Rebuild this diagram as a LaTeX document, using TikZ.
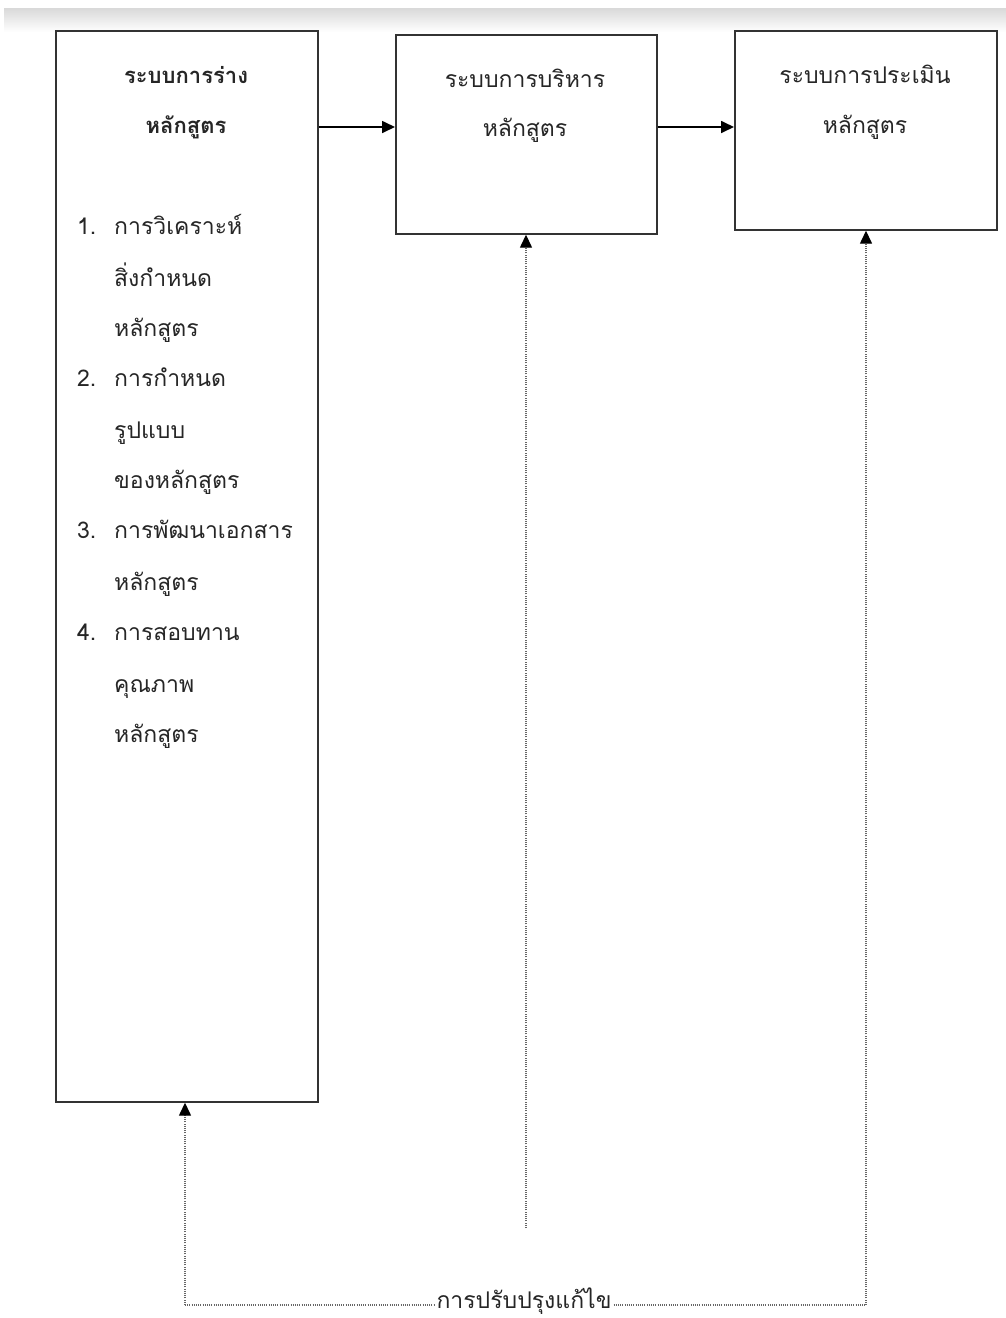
\documentclass[tikz,border=0pt]{standalone}
\usepackage{fontspec}
\newfontfamily\thaifont[Script=Thai]{Loma}
\usetikzlibrary{arrows.meta}
\definecolor{boxline}{HTML}{333333}
\definecolor{txt}{HTML}{262626}
\tikzset{
  box/.style={draw=boxline, line width=1.7pt, fill=white},
  ttl/.style={font=\thaifont\fontsize{23}{26}\selectfont, text=txt, text height=17pt, text depth=7pt, inner sep=0pt},
  itm/.style={font=\thaifont\fontsize{23}{26}\selectfont, text=txt, text height=17pt, text depth=7pt, inner sep=0pt, anchor=west},
  solidarrow/.style={line width=1.7pt, draw=black, -{Triangle[length=13pt,width=12pt]}},
  dotline/.style={line width=1.4pt, draw=gray!80!black, dash pattern=on 1pt off 1.2pt},
  dotarrow/.style={dotline, -{Triangle[length=13pt,width=12pt,color=black,fill=black]}}
}
\begin{document}
\begin{tikzpicture}[x=1pt,y=-1pt]
\useasboundingbox (0,0) rectangle (1006,1318);
\fill[white] (0,0) rectangle (1006,1318);
\shade[top color=gray!30, bottom color=white] (4,8) rectangle (1006,32);
% boxes
\node[box, minimum width=262pt, minimum height=1071pt, anchor=north west, inner sep=0pt] (A) at (55,30) {};
\node[box, minimum width=261pt, minimum height=199pt, anchor=north west, inner sep=0pt] (B) at (395,34) {};
\node[box, minimum width=262pt, minimum height=199pt, anchor=north west, inner sep=0pt] (C) at (734,30) {};
% titles
\node[ttl, font=\thaifont\bfseries\fontsize{22}{26}\selectfont] (a1) at (186,78) {ระบบการร่าง};
\node[ttl, font=\thaifont\bfseries\fontsize{22}{26}\selectfont] (a2) at (186,128) {หลักสูตร};
\node[ttl] (b1) at (525,82) {ระบบการบริหาร};
\node[ttl] (b2) at (525,131) {หลักสูตร};
\node[ttl] (c1) at (865,78) {ระบบการประเมิน};
\node[ttl] (c2) at (865,128) {หลักสูตร};
% list
\node[itm] (n1) at (77,229) {1.};
\node[itm] (l1) at (114,229) {การวิเคราะห์};
\node[itm] (l2) at (114,281) {สิ่งกำหนด};
\node[itm] (l3) at (114,331) {หลักสูตร};
\node[itm] (n2) at (77,381) {2.};
\node[itm] (l4) at (114,381) {การกำหนด};
\node[itm] (l5) at (114,433) {รูปแบบ};
\node[itm] (l6) at (114,483) {ของหลักสูตร};
\node[itm] (n3) at (77,533) {3.};
\node[itm] (l7) at (114,533) {การพัฒนาเอกสาร};
\node[itm] (l8) at (114,585) {หลักสูตร};
\node[itm] (n4) at (77,635) {4.};
\node[itm] (l9) at (114,635) {การสอบทาน};
\node[itm] (l10) at (114,687) {คุณภาพ};
\node[itm] (l11) at (114,737) {หลักสูตร};
% solid arrows
\draw[solidarrow] (A.east |- 0,127) -- (B.west |- 0,127);
\draw[solidarrow] (B.east |- 0,127) -- (C.west |- 0,127);
% feedback loop
\coordinate (pA) at (185,1305);
\coordinate (pC) at (866,1305);
\coordinate (pB) at (526,1228);
\node[ttl, fill=white, inner xsep=2pt] (fb) at (524,1303) {การปรับปรุงแก้ไข};
\draw[dotline] (pA) -- (fb.west |- pA);
\draw[dotline] (fb.east |- pC) -- (pC);
\draw[dotarrow] (pA) -- (pA |- A.south);
\draw[dotarrow] (pB) -- (pB |- B.south);
\draw[dotarrow] (pC) -- (pC |- C.south);
\end{tikzpicture}
\end{document}
